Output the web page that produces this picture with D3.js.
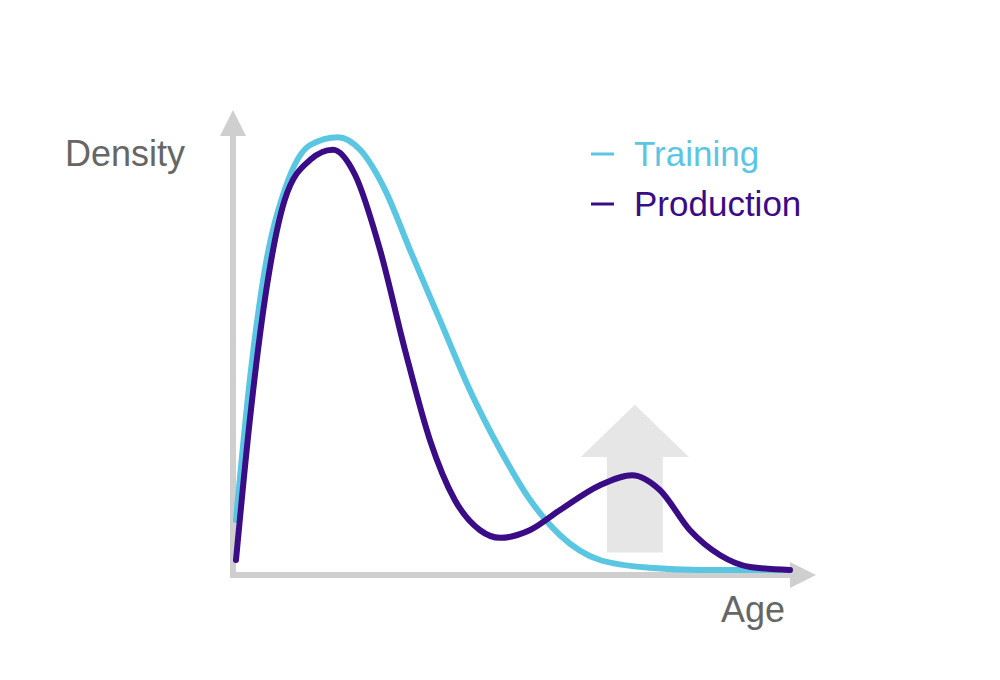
<!DOCTYPE html>
<html>
<head>
<meta charset="utf-8">
<script src="https://cdn.jsdelivr.net/npm/d3@7"></script>
<style>
  body { margin: 0; background: #fff; }
  text { font-family: "Liberation Sans", Arial, sans-serif; }
</style>
</head>
<body>
<div id="chart"></div>
<script>
// age (arbitrary units) and density values
const trainingAge = [0, 2.5, 5.2, 8.8, 13.4, 18.4, 22.4, 26.9, 31.4, 36.8, 42.2, 47.7, 53.1, 58.5, 65.7, 74.7, 83.8, 100];
const trainingDensity = [0.115, 0.437, 0.69, 0.874, 0.977, 0.995, 0.966, 0.874, 0.736, 0.575, 0.414, 0.276, 0.161, 0.08, 0.023, 0.005, 0, 0];
const productionAge = [0, 2.5, 5.2, 8.8, 13.4, 17.5, 21.5, 26, 30.5, 35, 39.5, 44, 47.7, 53.1, 58.5, 65.7, 71.5, 76.5, 81.9, 87.4, 92.8, 100];
const productionDensity = [0.023, 0.345, 0.621, 0.851, 0.943, 0.966, 0.908, 0.736, 0.506, 0.299, 0.161, 0.092, 0.074, 0.092, 0.138, 0.195, 0.218, 0.184, 0.092, 0.034, 0.007, 0];
const seriesNames = ['Training', 'Production'];
const seriesColors = ['#5bc6e2', '#3a0c86'];

const width = 1000, height = 680;
const svg = d3.select('#chart').append('svg')
    .attr('width', width).attr('height', height);

const x = d3.scaleLinear().domain([0, 100]).range([236, 790]);
const y = d3.scaleLinear().domain([0, 1]).range([570, 135]);

const axisColor = '#cfcfcf';
// axes with arrowheads
svg.append('line').attr('x1', 233).attr('x2', 233).attr('y1', 578).attr('y2', 130)
    .attr('stroke', axisColor).attr('stroke-width', 6);
svg.append('path').attr('d', 'M220,136 L233,110 L246,136 Z').attr('fill', axisColor);
svg.append('line').attr('x1', 230).attr('x2', 795).attr('y1', 575).attr('y2', 575)
    .attr('stroke', axisColor).attr('stroke-width', 6);
svg.append('path').attr('d', 'M790,562 L816,575 L790,588 Z').attr('fill', axisColor);

// shift annotation arrow
const ax = x(72), shaftW = 56, headW = 108;
const arrowTop = y(0.38), headBase = y(0.26), arrowBottom = y(0.04);
svg.append('path')
    .attr('d', `M${ax - shaftW / 2},${arrowBottom} L${ax - shaftW / 2},${headBase} L${ax - headW / 2},${headBase} L${ax},${arrowTop} L${ax + headW / 2},${headBase} L${ax + shaftW / 2},${headBase} L${ax + shaftW / 2},${arrowBottom} Z`)
    .attr('fill', '#e6e6e6');

const line = d3.line().x(d => x(d[0])).y(d => y(d[1])).curve(d3.curveMonotoneX);
const series = [
    d3.zip(trainingAge, trainingDensity),
    d3.zip(productionAge, productionDensity)
];
series.forEach(function(s, i) {
    svg.append('path').datum(s).attr('d', line)
        .attr('fill', 'none').attr('stroke', seriesColors[i])
        .attr('stroke-width', 6).attr('stroke-linecap', 'round');
});

// legend
seriesNames.forEach(function(name, i) {
    const yy = 166 + i * 50;
    svg.append('line').attr('x1', 591).attr('x2', 614).attr('y1', yy - 12).attr('y2', yy - 12)
        .attr('stroke', seriesColors[i]).attr('stroke-width', 3);
    svg.append('text').attr('x', 634).attr('y', yy)
        .attr('font-size', 35).attr('fill', seriesColors[i])
        .text(name);
});

svg.append('text').attr('x', 65).attr('y', 166).attr('font-size', 36)
    .attr('fill', '#666').text('Density');
svg.append('text').attr('x', 785).attr('y', 622).attr('font-size', 36)
    .attr('fill', '#666').attr('text-anchor', 'end').text('Age');
</script>
</body>
</html>
